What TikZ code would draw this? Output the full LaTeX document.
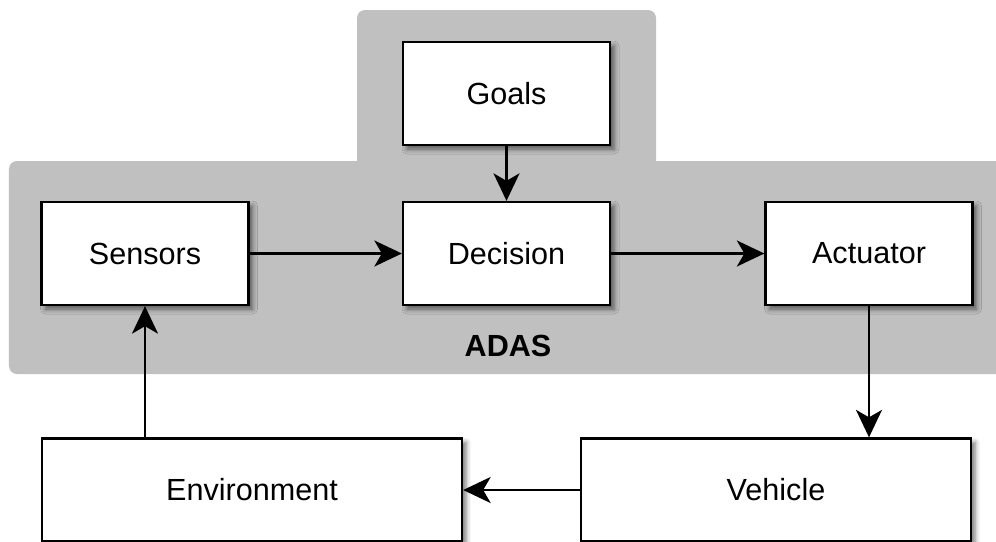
\documentclass[tikz,border=0pt]{standalone}
\usepackage{fontspec}
\setmainfont{Liberation Sans}
\usetikzlibrary{arrows.meta,shadows.blur}
\definecolor{adasgray}{RGB}{192,192,192}
\begin{document}
\begin{tikzpicture}[
    font=\fontsize{17.4}{20}\selectfont,
    block/.style={draw, line width=1.3pt, fill=white, inner sep=0pt,
        minimum height=2.06cm,
        blur shadow={shadow xshift=0.08cm, shadow yshift=-0.08cm, shadow blur radius=0.1cm, shadow opacity=55}},
    flow/.style={line width=1.3pt, -{Stealth[length=0.55cm, width=0.52cm, inset=0.15cm]}}
]
    \useasboundingbox (0,0) rectangle (19.92,-10.82);
    \clip (0,0) rectangle (19.92,-10.82);
    % ADAS area
    \fill[adasgray, rounded corners=0.16cm] (7.14,-0.2) rectangle (13.12,-4.0);
    \fill[adasgray, rounded corners=0.16cm] (0.18,-3.22) rectangle (20.6,-7.48);
    \node[font=\fontsize{17.4}{20}\selectfont\bfseries] (adas) at (10.16,-6.92) {ADAS};
    \node[block, minimum width=4.14cm] (goals) at (10.13,-1.87) {Goals};
    \node[block, minimum width=4.14cm] (sensors) at (2.9,-5.07) {Sensors};
    \node[block, minimum width=4.14cm] (decision) at (10.13,-5.07) {Decision};
    \node[block, minimum width=4.14cm] (actuator) at (17.38,-5.07) {Actuator};
    \node[block, minimum width=8.4cm] (environment) at (5.04,-9.8) {Environment};
    \node[block, minimum width=7.8cm] (vehicle) at (15.52,-9.8) {Vehicle};
    \draw[flow] (goals) -- (decision);
    \draw[flow] (sensors) -- (decision);
    \draw[flow] (decision) -- (actuator);
    \draw[flow] (actuator) -- (vehicle.north -| actuator);
    \draw[flow] (vehicle) -- (environment);
    \draw[flow] (environment.north -| sensors) -- (sensors);
\end{tikzpicture}
\end{document}
